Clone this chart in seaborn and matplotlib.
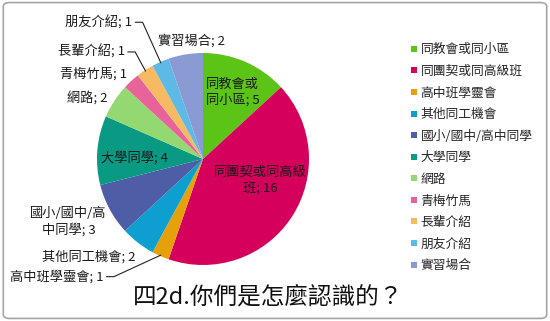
import matplotlib
matplotlib.use('Agg')

import numpy as np
import matplotlib.pyplot as plt
import seaborn as sns
from matplotlib.lines import Line2D
from matplotlib.patches import FancyBboxPatch

categories = ['同教會或同小區', '同團契或同高級班', '高中班學靈會', '其他同工機會',
              '國小/國中/高中同學', '大學同學', '網路', '青梅竹馬', '長輩介紹',
              '朋友介紹', '實習場合']
values = [5, 16, 1, 2, 3, 4, 2, 1, 1, 1, 2]
slice_labels = ['同教會或\n同小區; 5', '同團契或同高級\n班; 16', '高中班學靈會; 1',
                '其他同工機會; 2', '國小/國中/高\n中同學; 3', '大學同學; 4', '網路; 2',
                '青梅竹馬; 1', '長輩介紹; 1', '朋友介紹; 1', '實習場合; 2']
hex_colors = ['#5cc416', '#d4005c', '#e6a10a', '#0d9fcf', '#4d5ea6', '#0a9983',
              '#94d872', '#e8639a', '#f5ba62', '#5fb9e6', '#8a9bd3']
title = '四2d.你們是怎麼認識的？'

sns.set_theme(style='white')
plt.rcParams['font.family'] = ['Noto Sans CJK TC', 'DejaVu Sans']

palette = sns.color_palette(hex_colors)

fig = plt.figure(figsize=(5.5, 3.21), dpi=100)
fig.patch.set_facecolor('white')
fig.patches.append(FancyBboxPatch((0.006, 0.008), 0.988, 0.984,
                                  boxstyle='round,pad=0,rounding_size=0.012',
                                  transform=fig.transFigure, fill=False,
                                  edgecolor='#a6a6a6', linewidth=1.2))

# pie centre ~ (203,159) px, radius ~106 px
ax = fig.add_axes([(203 - 106) / 550, (321 - 159 - 106) / 321, 212 / 550, 212 / 321])
wedges, _ = ax.pie(values, colors=palette, startangle=90, counterclock=False,
                   wedgeprops=dict(linewidth=0))
ax.set_xlim(-1, 1)
ax.set_ylim(-1, 1)
ax.set_aspect('equal')

# label placement (x, y, ha) in pie units, plus whether a leader line is drawn
label_pos = [(0.28, 0.63, 'center', False),
             (0.54, -0.20, 'center', False),
             (-0.94, -1.11, 'right', True),
             (-0.64, -0.92, 'right', False),
             (-1.27, -0.59, 'center', False),
             (-0.65, 0.01, 'center', False),
             (-0.90, 0.58, 'right', False),
             (-0.72, 0.80, 'right', False),
             (-0.74, 1.01, 'right', True),
             (-0.67, 1.29, 'right', True),
             (-0.11, 1.12, 'center', False)]

for w, lab, (x, y, ha, leader) in zip(wedges, slice_labels, label_pos):
    ax.text(x, y, lab, ha=ha, va='center', fontsize=9.5, color='#1a1a1a',
            linespacing=1.25, clip_on=False)
    if leader:
        mid = np.deg2rad((w.theta1 + w.theta2) / 2)
        ex, ey = np.cos(mid) * 0.99, np.sin(mid) * 0.99
        sx = x + 0.03
        ax.plot([sx, sx + 0.07, ex], [y, y, ey], color='#222222', lw=0.8,
                clip_on=False)

handles = [Line2D([0], [0], marker='s', linestyle='none', markersize=4.5,
                  markerfacecolor=c, markeredgewidth=0) for c in palette]
fig.legend(handles, categories, loc='upper left', bbox_to_anchor=(404 / 550, 1 - 37 / 321),
           frameon=False, fontsize=9.2, handlelength=0.6, handletextpad=0.2,
           labelspacing=0.67, borderpad=0)

fig.text(268 / 550, 1 - 298 / 321, title, ha='center', va='center', fontsize=17,
         color='#111111')

fig.savefig('out.png', dpi=100)
